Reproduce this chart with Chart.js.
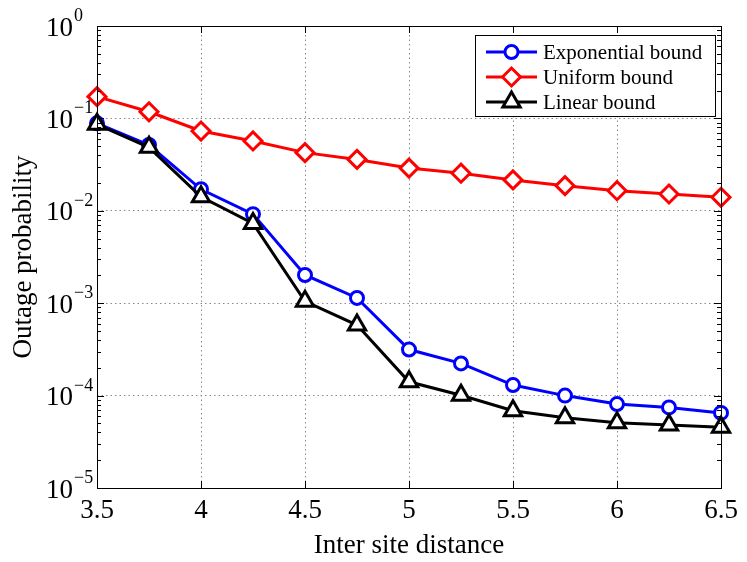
<!DOCTYPE html>
<html>
<head>
<meta charset="utf-8">
<script src="https://cdn.jsdelivr.net/npm/chart.js@4.4.0/dist/chart.umd.min.js"></script>
<style>
html, body { margin: 0; padding: 0; background: #fff; }
</style>
</head>
<body>
<canvas id="myChart" width="747" height="562"></canvas>
<script>
var distance = [3.5, 3.75, 4, 4.25, 4.5, 4.75, 5, 5.25, 5.5, 5.75, 6, 6.25, 6.5];
var exponentialBound = [0.0885, 0.0515, 0.0171, 0.0092, 0.00202, 0.00114, 3.15e-4, 2.23e-4, 1.30e-4, 1.0e-4, 8.1e-5, 7.45e-5, 6.5e-5];
var uniformBound = [0.172, 0.118, 0.073, 0.057, 0.0426, 0.036, 0.0290, 0.0255, 0.0216, 0.0187, 0.0165, 0.0152, 0.0140];
var linearBound = [0.0863, 0.0486, 0.0142, 0.0073, 0.00105, 5.8e-4, 1.41e-4, 1.01e-4, 6.87e-5, 5.77e-5, 5.09e-5, 4.8e-5, 4.54e-5];
var xTicks = [3.5, 4, 4.5, 5, 5.5, 6, 6.5];
var yExponents = [0, -1, -2, -3, -4, -5];

var serif = "'Liberation Serif', 'Times New Roman', serif";

// decades plus the 2..9 minor ticks between them
var yTickValues = [];
for (var e = -5; e < 0; e++) {
    for (var m = 1; m <= 9; m++) {
        yTickValues.push(Number((m * Math.pow(10, e)).toPrecision(3)));
    }
}
yTickValues.push(1);

function isDecade(v) {
    var l = Math.log10(v);
    return Math.abs(l - Math.round(l)) < 1e-9;
}

function toPoints(arr) {
    return distance.map(function (d, i) { return {x: d, y: arr[i]}; });
}

function marker(ctx, style, x, y, color) {
    ctx.save();
    ctx.lineWidth = 3;
    ctx.strokeStyle = color;
    ctx.fillStyle = '#fff';
    ctx.beginPath();
    if (style === 'circle') {
        ctx.arc(x, y, 6.5, 0, Math.PI * 2);
    } else if (style === 'rectRot') {
        ctx.moveTo(x - 9, y); ctx.lineTo(x, y - 9); ctx.lineTo(x + 9, y); ctx.lineTo(x, y + 9);
    } else {
        var r = 10;
        ctx.moveTo(x, y - r);
        ctx.lineTo(x + r * Math.sin(2 * Math.PI / 3), y - r * Math.cos(2 * Math.PI / 3));
        ctx.lineTo(x + r * Math.sin(4 * Math.PI / 3), y - r * Math.cos(4 * Math.PI / 3));
    }
    ctx.closePath();
    ctx.fill();
    ctx.stroke();
    ctx.restore();
}

var matlabAxes = {
    id: 'matlabAxes',
    afterDraw: function (chart) {
        var ctx = chart.ctx;
        var a = chart.chartArea;
        var xs = chart.scales.x, ys = chart.scales.y;
        ctx.save();
        ctx.strokeStyle = '#000';
        ctx.lineWidth = 1;
        ctx.strokeRect(Math.round(a.left) + 0.5, Math.round(a.top) + 0.5,
            Math.round(a.right - a.left), Math.round(a.bottom - a.top));

        // inward ticks
        ctx.beginPath();
        xTicks.forEach(function (v) {
            var px = Math.round(xs.getPixelForValue(v)) + 0.5;
            ctx.moveTo(px, a.bottom); ctx.lineTo(px, a.bottom - 7);
            ctx.moveTo(px, a.top); ctx.lineTo(px, a.top + 7);
        });
        ys.ticks.forEach(function (t) {
            var py = Math.round(ys.getPixelForValue(t.value)) + 0.5;
            var len = isDecade(t.value) ? 7 : 4;
            ctx.moveTo(a.left, py); ctx.lineTo(a.left + len, py);
            ctx.moveTo(a.right, py); ctx.lineTo(a.right - len, py);
        });
        ctx.stroke();

        // y labels as 10 with a raised exponent
        ctx.fillStyle = '#000';
        ctx.textBaseline = 'alphabetic';
        yExponents.forEach(function (ex) {
            var py = ys.getPixelForValue(Math.pow(10, ex));
            ctx.font = '27px ' + serif;
            ctx.textAlign = 'right';
            ctx.fillText('10', 73, py + 9.5);
            ctx.font = '18px ' + serif;
            ctx.textAlign = 'left';
            ctx.fillText(ex === 0 ? '0' : '\u2212' + (-ex), 74, py - 5);
        });

        // legend box
        var lx = 475, ly = 35, lw = 240, lh = 81;
        ctx.fillStyle = '#fff';
        ctx.fillRect(lx, ly, lw, lh);
        ctx.strokeStyle = '#000';
        ctx.lineWidth = 1;
        ctx.strokeRect(lx + 0.5, ly + 0.5, lw, lh);
        var rows = [52, 77, 102];
        chart.data.datasets.forEach(function (ds, i) {
            var y = rows[i];
            ctx.strokeStyle = ds.borderColor;
            ctx.lineWidth = 3;
            ctx.beginPath();
            ctx.moveTo(486, y); ctx.lineTo(537, y);
            ctx.stroke();
            marker(ctx, ds.pointStyle, 511.5, y, ds.borderColor);
            ctx.fillStyle = '#000';
            ctx.font = '21px ' + serif;
            ctx.textAlign = 'left';
            ctx.textBaseline = 'middle';
            ctx.fillText(ds.label, 543, y + 1);
        });
        ctx.restore();
    }
};

var gridDash = [1.5, 3];
var ctx = document.getElementById('myChart').getContext('2d');
var myChart = new Chart(ctx, {
    type: 'line',
    data: {
        datasets: [{
            label: 'Exponential bound',
            data: toPoints(exponentialBound),
            borderColor: '#0000ff',
            borderWidth: 3,
            pointStyle: 'circle',
            pointRadius: 6.5,
            pointBorderWidth: 3,
            pointBackgroundColor: '#fff',
            order: 2,
            clip: false
        },
        {
            label: 'Uniform bound',
            data: toPoints(uniformBound),
            borderColor: '#ff0000',
            borderWidth: 3,
            pointStyle: 'rectRot',
            pointRadius: 9,
            pointBorderWidth: 3,
            pointBackgroundColor: '#fff',
            order: 1,
            clip: false
        },
        {
            label: 'Linear bound',
            data: toPoints(linearBound),
            borderColor: '#000000',
            borderWidth: 3,
            pointStyle: 'triangle',
            pointRadius: 10,
            pointBorderWidth: 3,
            pointBackgroundColor: '#fff',
            order: 0,
            clip: false
        }]
    },
    options: {
        responsive: false,
        animation: false,
        layout: {
            padding: {top: 26, right: 26, left: 0, bottom: 0}
        },
        plugins: {
            legend: {display: false},
            tooltip: {enabled: false}
        },
        scales: {
            x: {
                type: 'linear',
                min: 3.5,
                max: 6.5,
                afterBuildTicks: function (s) {
                    s.ticks = xTicks.map(function (v) { return {value: v}; });
                },
                afterFit: function (s) { s.height = 74; },
                ticks: {
                    font: {family: serif, size: 27},
                    color: '#000',
                    padding: 7,
                    maxRotation: 0,
                    autoSkip: false,
                    callback: function (v) { return String(v); }
                },
                grid: {drawTicks: false, color: '#8a8a8a', lineWidth: 1},
                border: {display: false, dash: gridDash},
                title: {
                    display: true,
                    text: 'Inter site distance',
                    font: {family: serif, size: 27},
                    color: '#000',
                    padding: {top: 7, bottom: 0}
                }
            },
            y: {
                type: 'logarithmic',
                min: 1e-5,
                max: 1,
                afterBuildTicks: function (s) {
                    s.ticks = yTickValues.map(function (v) { return {value: v, major: isDecade(v)}; });
                },
                afterFit: function (s) { s.width = 97; },
                ticks: {display: false},
                grid: {
                    drawTicks: false,
                    lineWidth: 1,
                    color: function (c) {
                        return c.tick && isDecade(c.tick.value) ? '#8a8a8a' : 'rgba(0,0,0,0)';
                    }
                },
                border: {display: false, dash: gridDash},
                title: {
                    display: true,
                    text: 'Outage probability',
                    font: {family: serif, size: 27},
                    color: '#000',
                    padding: {top: 8, bottom: 0}
                }
            }
        }
    },
    plugins: [matlabAxes]
});
</script>
</body>
</html>
